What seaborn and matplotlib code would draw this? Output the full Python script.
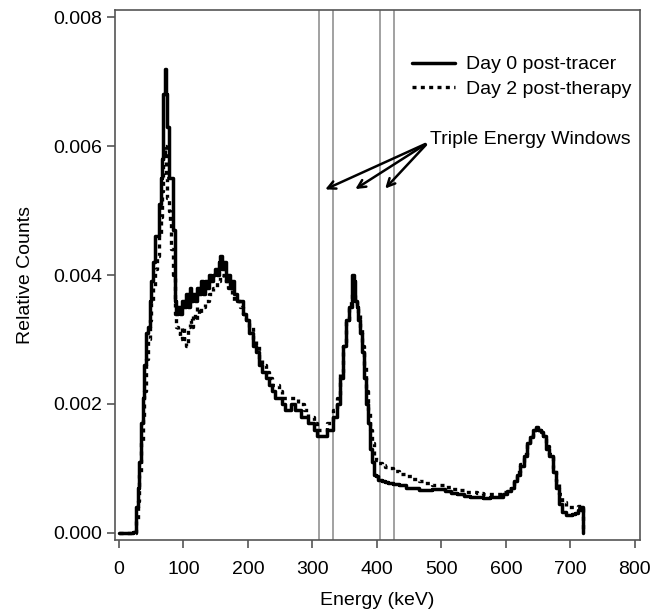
import numpy as np
import pandas as pd
import matplotlib
matplotlib.use('Agg')
import matplotlib.pyplot as plt
import seaborn as sns

# energias (keV) de los canales
energia = [0, 5, 10, 15, 20, 25, 28, 30, 33, 36, 38, 40, 43, 46, 49, 52, 55, 58, 61, 64,
           66, 68, 70, 72, 74, 76, 78, 80, 83, 86, 88, 90, 93, 96, 99, 102, 105, 108, 111, 114,
           117, 120, 123, 126, 129, 132, 135, 138, 141, 144, 147, 150, 153, 156, 159, 162, 165, 168, 171, 174,
           177, 180, 185, 190, 195, 200, 205, 210, 215, 220, 225, 230, 235, 240, 245, 250, 255, 260, 265, 270,
           275, 280, 285, 290, 295, 300, 305, 310, 315, 320, 325, 330, 335, 340, 345, 350, 355, 358, 361, 363,
           365, 367, 370, 373, 376, 379, 382, 385, 388, 391, 394, 397, 400, 405, 410, 415, 420, 430, 440, 450,
           460, 470, 480, 490, 500, 510, 520, 530, 540, 550, 560, 570, 580, 590, 600, 605, 610, 615, 620, 625,
           630, 635, 640, 645, 648, 652, 656, 660, 665, 670, 675, 680, 685, 690, 695, 700, 705, 710, 715, 718,
           720]

dia0 = [0, 0, 0, 0, 0, 0.00002, 0.0004, 0.0007, 0.0011, 0.0017, 0.0021, 0.0026, 0.0031, 0.0032, 0.0036, 0.0039, 0.0042, 0.0046, 0.0046, 0.0051,
        0.0055, 0.0058, 0.0068, 0.0072, 0.0068, 0.0063, 0.0055, 0.0055, 0.0055, 0.0047, 0.0036, 0.0034, 0.0035, 0.0034, 0.0036, 0.0035, 0.0037, 0.0035, 0.0038, 0.0036,
        0.0037, 0.0036, 0.0038, 0.0037, 0.0039, 0.0037, 0.0039, 0.0038, 0.0040, 0.0039, 0.0040, 0.0041, 0.0040, 0.0042, 0.0043, 0.0041, 0.0042, 0.0039, 0.0040, 0.0038,
        0.0039, 0.0037, 0.0036, 0.0036, 0.0034, 0.0033, 0.0031, 0.0029, 0.0028, 0.0026, 0.0025, 0.0024, 0.0023, 0.0022, 0.0021, 0.0021, 0.0020, 0.0019, 0.0019, 0.0020,
        0.0019, 0.0019, 0.0018, 0.0018, 0.0017, 0.0017, 0.0016, 0.0015, 0.0015, 0.0015, 0.0016, 0.0016, 0.0018, 0.0020, 0.0024, 0.0029, 0.0033, 0.0035, 0.0035, 0.0040,
        0.0039, 0.0036, 0.0035, 0.0033, 0.0031, 0.0028, 0.0024, 0.0020, 0.0017, 0.0013, 0.0011, 0.0009, 0.00088, 0.00082, 0.0008, 0.00079, 0.00078, 0.00076, 0.00074, 0.0007,
        0.00069, 0.00066, 0.00066, 0.00068, 0.00068, 0.00065, 0.00062, 0.0006, 0.00058, 0.00056, 0.00056, 0.00054, 0.00055, 0.00056, 0.0006, 0.00065, 0.0007, 0.0008, 0.0009, 0.00104,
        0.0012, 0.0014, 0.00149, 0.0016, 0.00165, 0.0016, 0.00157, 0.0015, 0.0013, 0.0012, 0.00095, 0.0007, 0.00045, 0.00033, 0.00028, 0.00028, 0.0003, 0.00031, 0.00036, 0.0004,
        0.0]

dia2 = [0, 0, 0, 0, 0, 0, 0.0002, 0.0005, 0.0009, 0.0014, 0.0018, 0.0022, 0.0027, 0.0030, 0.0033, 0.0036, 0.0038, 0.0041, 0.0043, 0.0046,
        0.0049, 0.0053, 0.0059, 0.0060, 0.0055, 0.0052, 0.0050, 0.0048, 0.0044, 0.0040, 0.0034, 0.0032, 0.0031, 0.0030, 0.0032, 0.0030, 0.0029, 0.0032, 0.0033, 0.0032,
        0.0034, 0.0033, 0.0035, 0.0034, 0.0035, 0.0035, 0.0036, 0.0036, 0.0037, 0.0037, 0.0038, 0.0038, 0.0039, 0.0039, 0.0040, 0.0040, 0.0039, 0.0039, 0.0038, 0.0038,
        0.0037, 0.0036, 0.0036, 0.0035, 0.0034, 0.0033, 0.0032, 0.0030, 0.0029, 0.0027, 0.0026, 0.0025, 0.0024, 0.0023, 0.0023, 0.0022, 0.0021, 0.0021, 0.0021, 0.0021,
        0.0021, 0.0020, 0.0020, 0.0019, 0.0018, 0.0018, 0.0017, 0.0016, 0.0016, 0.0016, 0.0017, 0.0017, 0.0019, 0.0021, 0.0025, 0.0029, 0.0033, 0.0035, 0.0036, 0.0037,
        0.0037, 0.0036, 0.0035, 0.0034, 0.0032, 0.0029, 0.0026, 0.0022, 0.0019, 0.0016, 0.0014, 0.0012, 0.00113, 0.00108, 0.00105, 0.00102, 0.001, 0.00096, 0.00092, 0.00088,
        0.00084, 0.0008, 0.00077, 0.00075, 0.00074, 0.00071, 0.00068, 0.00066, 0.00064, 0.00063, 0.00062, 0.0006, 0.0006, 0.0006, 0.00063, 0.00068, 0.00074, 0.00083, 0.00094, 0.00107,
        0.00122, 0.00138, 0.0015, 0.0016, 0.00163, 0.0016, 0.00157, 0.0015, 0.00135, 0.00122, 0.001, 0.0008, 0.0006, 0.00048, 0.00042, 0.0004, 0.0004, 0.0004, 0.00042, 0.00042,
        0.0]

ventanas = [310, 332, 405, 427]          # limites de las ventanas (keV)
flechas_x = [316, 363, 410]              # puntas de las flechas
etiquetas = ['Day 0 post-tracer', 'Day 2 post-therapy']

df = pd.DataFrame({'energia': energia, 'dia0': dia0, 'dia2': dia2})

sns.set_theme(style='ticks')
plt.rcParams['font.family'] = ['Liberation Sans', 'DejaVu Sans']
plt.rcParams['text.color'] = 'black'
plt.rcParams['axes.labelcolor'] = 'black'

fig = plt.figure(figsize=(6.63, 6.14), dpi=100)
ax = fig.add_axes([0.1735, 0.1205, 0.7918, 0.8632])

for v in ventanas:
    ax.axvline(v, color='#9a9a9a', lw=1.3, zorder=1)

sns.lineplot(data=df, x='energia', y='dia2', ax=ax, color='black', lw=2.4,
             linestyle=(0, (1.2, 1.3)), drawstyle='steps-mid', label=etiquetas[1], zorder=3)
sns.lineplot(data=df, x='energia', y='dia0', ax=ax, color='black', lw=2.5,
             drawstyle='steps-mid', label=etiquetas[0], zorder=4)

ax.set_xlim(-6, 808)
ax.set_ylim(-0.00011, 0.00811)
ax.set_xticks(np.arange(0, 801, 100))
ax.set_yticks([0, 0.002, 0.004, 0.006, 0.008])
ax.set_yticklabels(['0.000', '0.002', '0.004', '0.006', '0.008'])
ax.tick_params(labelsize=14, length=6, width=1.2, color='#555555', labelcolor='black')
ax.tick_params(axis='x', pad=9)
ax.tick_params(axis='y', pad=3)
ax.set_xlabel('Energy (keV)', fontsize=14, labelpad=10)
ax.set_ylabel('Relative Counts', fontsize=14, labelpad=14)
for s in ax.spines.values():
    s.set_color('#555555')
    s.set_linewidth(1.2)

# leyenda en el orden del original
h, l = ax.get_legend_handles_labels()
orden = [l.index(e) for e in etiquetas]
ax.legend([h[i] for i in orden], [l[i] for i in orden], loc='upper right',
          bbox_to_anchor=(1.003, 0.932), frameon=False, fontsize=14, borderpad=0,
          handlelength=2.2, handletextpad=0.6, labelspacing=0.35)

ax.text(482, 0.0061, 'Triple Energy Windows', fontsize=14, ha='left', va='center')
for fx in flechas_x:
    ax.annotate('', xy=(fx, 0.00531), xytext=(479, 0.00605),
                arrowprops=dict(arrowstyle='->', color='black', lw=1.8, mutation_scale=14))

fig.savefig('out.png', dpi=100)
